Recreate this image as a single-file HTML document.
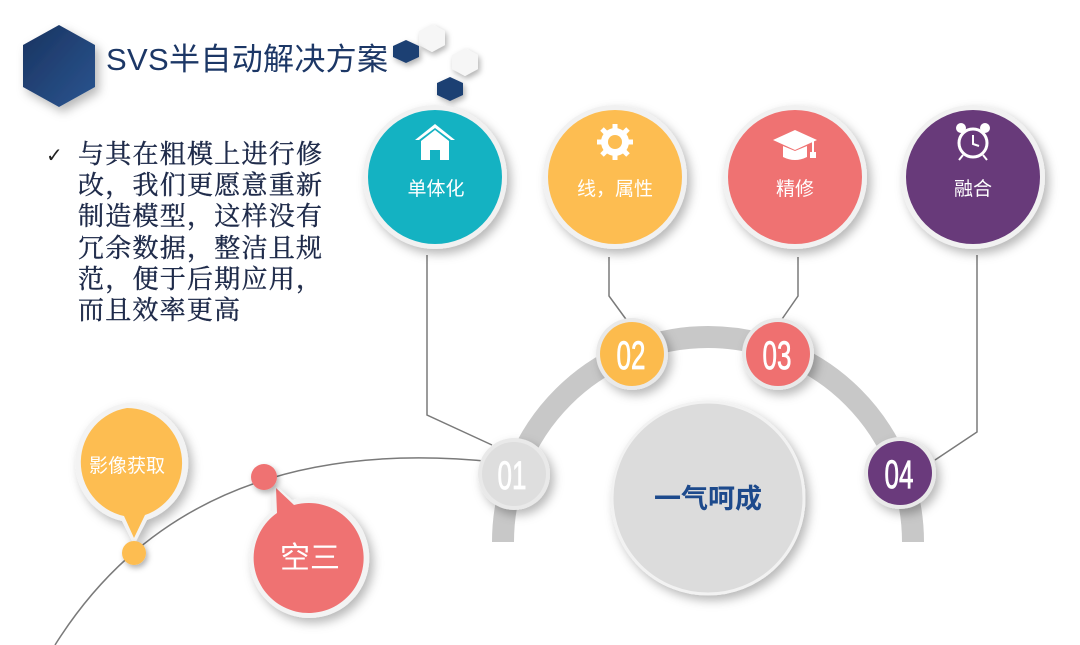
<!DOCTYPE html>
<html><head><meta charset="utf-8"><style>
html,body{margin:0;padding:0;background:#fff;width:1080px;height:645px;overflow:hidden}
svg{display:block}
.cjk{font-family:"Liberation Sans","Noto Sans CJK SC",sans-serif}
.num{font-family:"Liberation Sans Narrow","Liberation Sans",sans-serif}
</style></head><body>
<svg width="1080" height="645" viewBox="0 0 1080 645" xmlns="http://www.w3.org/2000/svg">
<defs>
<filter id="sh" x="-30%" y="-30%" width="170%" height="170%"><feDropShadow dx="4" dy="5" stdDeviation="5" flood-color="#000" flood-opacity="0.28"/></filter>
<filter id="sh2" x="-30%" y="-30%" width="170%" height="170%"><feDropShadow dx="2" dy="3" stdDeviation="3" flood-color="#000" flood-opacity="0.3"/></filter>
<linearGradient id="hx" x1="0" y1="0" x2="1" y2="1"><stop offset="0" stop-color="#1a3360"/><stop offset="1" stop-color="#2a5590"/></linearGradient>
</defs>

<polygon points="59,25 95,45 95,87 59,107 23,87 23,45" fill="url(#hx)" filter="url(#sh)"/>
<polygon points="432,24 445,31 445,45 432,52 419,45 419,31" fill="#f6f6f6" filter="url(#sh2)"/>
<polygon points="465,48 478,55 478,69 465,76 452,69 452,55" fill="#f6f6f6" filter="url(#sh2)"/>
<polygon points="406,40 419,46 419,57 406,63 393,57 393,46" fill="#1f3f73" filter="url(#sh2)"/>
<polygon points="450,77 463,83 463,95 450,101 437,95 437,83" fill="#1f3f73" filter="url(#sh2)"/>
<text x="106" y="70" class="cjk" font-size="31" fill="#1c3766" textLength="282">SVS半自动解决方案</text>

<text x="46" y="162" font-family="DejaVu Sans" font-size="20" fill="#222">✓</text>
<g font-family="'Noto Serif CJK SC','Liberation Serif',serif" font-size="26" fill="#1f2b4a" stroke="#1f2b4a" stroke-width="0.4">
<text x="78" y="163" textLength="244">与其在粗模上进行修</text>
<text x="78" y="194" textLength="244">改，我们更愿意重新</text>
<text x="78" y="225" textLength="244">制造模型，这样没有</text>
<text x="78" y="257" textLength="244">冗余数据，整洁且规</text>
<text x="78" y="288" textLength="244">范，便于后期应用，</text>
<text x="78" y="319" textLength="162">而且效率更高</text>
</g>

<g fill="none" stroke="#7a7a7a" stroke-width="1.5">
<polyline points="427,255 427,415 492,445"/>
<polyline points="609,257 609,296 628,322"/>
<polyline points="798,257 798,296 780,322"/>
<polyline points="977,255 977,432 935,460"/>
<path d="M55,645 Q190,430 495,462"/>
</g>

<path d="M503,542 A205,205 0 0 1 913,542" fill="none" stroke="#c8c8c8" stroke-width="22"/>

<circle cx="708" cy="498" r="96" fill="#dcdcdc" stroke="#f2f2f2" stroke-width="3" filter="url(#sh)"/>
<text x="708" y="508" text-anchor="middle" class="cjk" font-size="27" font-weight="bold" fill="#1d4a8c">一气呵成</text>

<g filter="url(#sh)">
<circle cx="514" cy="474" r="36" fill="#e9e9e9"/>
<circle cx="632" cy="354" r="36" fill="#e9e9e9"/>
<circle cx="778" cy="354" r="36" fill="#e9e9e9"/>
<circle cx="900" cy="473" r="36" fill="#e9e9e9"/>
</g>
<circle cx="514" cy="474" r="32" fill="#dedede"/>
<circle cx="632" cy="354" r="32" fill="#fcbb4d"/>
<circle cx="778" cy="354" r="32" fill="#ef7070"/>
<circle cx="900" cy="473" r="32" fill="#6a3a7c"/>
<g class="num" font-size="40" fill="#fff" text-anchor="middle" stroke="#fff" stroke-width="0.8">
<text x="512" y="489" transform="translate(512 0) scale(0.65 1) translate(-512 0)">01</text>
<text x="631" y="369" transform="translate(631 0) scale(0.65 1) translate(-631 0)">02</text>
<text x="777" y="369" transform="translate(777 0) scale(0.65 1) translate(-777 0)">03</text>
<text x="899" y="488" transform="translate(899 0) scale(0.65 1) translate(-899 0)">04</text>
</g>

<g filter="url(#sh)">
<circle cx="435" cy="177" r="72" fill="#f1f1f1"/>
<circle cx="615" cy="177" r="72" fill="#f1f1f1"/>
<circle cx="795" cy="177" r="72" fill="#f1f1f1"/>
<circle cx="973" cy="177" r="72" fill="#f1f1f1"/>
</g>
<circle cx="435" cy="177" r="67" fill="#14b2c2"/>
<circle cx="615" cy="177" r="67" fill="#fdbd51"/>
<circle cx="795" cy="177" r="67" fill="#ef7272"/>
<circle cx="973" cy="177" r="67" fill="#683a7a"/>
<g class="cjk" font-size="19" fill="#fff" text-anchor="middle">
<text x="436" y="195">单体化</text>
<text x="615" y="195">线，属性</text>
<text x="795" y="195">精修</text>
<text x="973" y="195">融合</text>
</g>
<g fill="#fff">
<path d="M415,140 L435,124 L455,140 L451,140 L435,128 L419,140Z"/>
<path d="M421,141 L435,130 L449,141 L449,160 L440,160 L440,150 L430,150 L430,160 L421,160Z"/>
<circle cx="615" cy="142" r="14"/>
<g stroke="#fff" stroke-width="5"><line x1="615" y1="124" x2="615" y2="160"/><line x1="597" y1="142" x2="633" y2="142"/><line x1="602" y1="129" x2="628" y2="155"/><line x1="628" y1="129" x2="602" y2="155"/></g>
<circle cx="615" cy="142" r="7" fill="#fdbd51"/>
<path d="M773,140 L795,130 L817,140 L795,150Z"/>
<path d="M783,146 L795,151 L807,146 L807,157 Q795,163 783,157Z"/>
<rect x="812" y="140" width="2" height="14"/><rect x="810" y="152" width="6" height="6"/>
<circle cx="973" cy="143" r="14" fill="none" stroke="#fff" stroke-width="3"/>
<path d="M973,135 L973,144 L979,146" stroke="#fff" stroke-width="2" fill="none"/>
<circle cx="961" cy="128" r="5"/><circle cx="985" cy="128" r="5"/>
<line x1="963" y1="155" x2="959" y2="160" stroke="#fff" stroke-width="2"/><line x1="983" y1="155" x2="987" y2="160" stroke="#fff" stroke-width="2"/>
</g>

<g filter="url(#sh)">
<path d="M127,403 A60,60 0 0 1 147,520 L134,545 L122,521 A60,60 0 0 1 127,403Z" fill="#f3f3f3"/>
<path d="M309,498 A60,60 0 1 1 272,511 L272,482 L292,500 A60,60 0 0 1 309,498Z" fill="#f3f3f3"/>
</g>
<path d="M127,408 A55,55 0 0 1 145,515 L134,538 L124,516 A55,55 0 0 1 127,408Z" fill="#fdbd51"/>
<path d="M309,503 A55,55 0 1 1 277,513 L276,488 L294,505 A55,55 0 0 1 309,503Z" fill="#ef7272"/>
<circle cx="134" cy="553" r="12" fill="#fdbd51" filter="url(#sh2)"/>
<circle cx="264" cy="477" r="13" fill="#ef7272" filter="url(#sh2)"/>
<text x="127" y="472" text-anchor="middle" class="cjk" font-size="19" fill="#fff">影像获取</text>
<text x="310" y="568" text-anchor="middle" class="cjk" font-size="30" fill="#fff">空三</text>
</svg>
</body></html>
